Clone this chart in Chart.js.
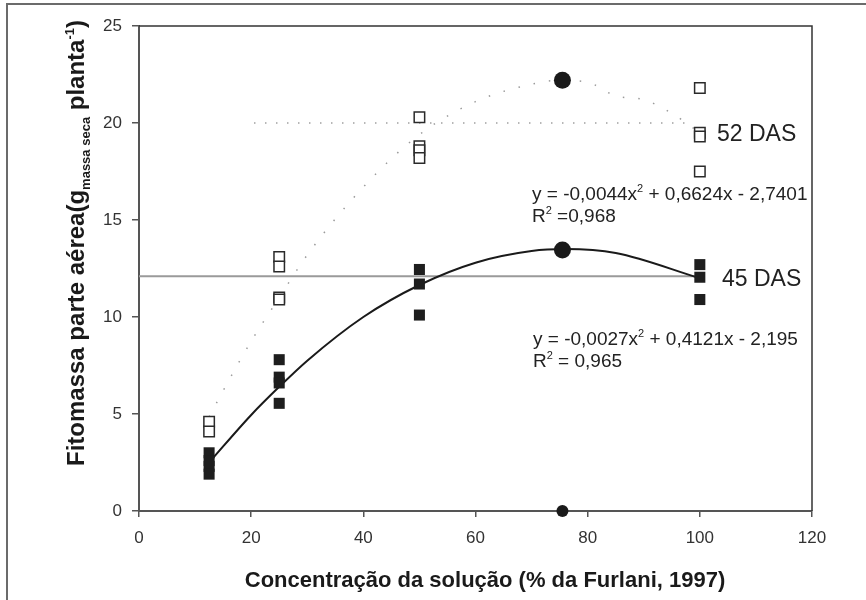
<!DOCTYPE html>
<html>
<head>
<meta charset="utf-8">
<title>Fitomassa parte aérea</title>
<script src="https://cdn.jsdelivr.net/npm/chart.js@4.4.0/dist/chart.umd.min.js"></script>
<style>
    html, body { margin: 0; padding: 0; background: #fff; }
    #chart { display: block; }
</style>
</head>
<body>
<canvas id="chart" width="866" height="600"></canvas>
<script>
// Data
const concentration = [12.5, 25, 50, 100];
const das52 = [[4.6, 4.1], [13.1, 12.6, 11.0, 10.9], [20.3, 18.8, 18.6, 18.2], [21.8, 19.5, 19.3, 17.5]];
const das45 = [[3.0, 2.6, 2.3, 1.9], [7.8, 6.9, 6.6, 5.55], [12.45, 11.7, 10.1], [12.7, 12.05, 10.9]];

// fitted curves
const curveX52 = [12.5, 15, 20, 25, 30, 40, 50, 60, 70, 75, 80, 85, 90, 95, 100];
const curveY52 = [4.85, 6.2, 8.75, 11.0, 13.2, 16.7, 19.4, 21.1, 22.0, 22.2, 22.1, 21.4, 21.2, 20.5, 19.5];
const curveX45 = [12.5, 20, 25, 30, 40, 50, 60, 70, 76, 85, 100];
const curveY45 = [2.5, 4.95, 6.4, 7.75, 10.0, 11.65, 12.8, 13.4, 13.5, 13.3, 12.0];

// maximum points
const maxX = [75.5, 75.5, 75.5];
const maxY = [22.2, 13.45, 0];

// reference lines
const refLineX = [0, 100];
const refLineY = [12.1, 12.1];
const dotLineX = [20.5, 97.5];
const dotLineY = [20, 20];

const xTicks = [0, 20, 40, 60, 80, 100, 120];
const yTicks = [0, 5, 10, 15, 20, 25];

const FONT = "'Liberation Sans', Arial, sans-serif";

function toPoints(xs, ys) {
    return xs.map((x, i) => ({ x: x, y: ys[i] }));
}

function groupPoints(xs, groups) {
    const pts = [];
    groups.forEach((vals, i) => vals.forEach(v => pts.push({ x: xs[i], y: v })));
    return pts;
}

// draw text with sub/superscript pieces
function drawRich(ctx, parts, x, y, align) {
    let total = 0;
    parts.forEach(p => {
        ctx.font = (p.bold ? 'bold ' : '') + p.size + 'px ' + FONT;
        p.w = ctx.measureText(p.text).width;
        total += p.w;
    });
    let cx = align === 'center' ? x - total / 2 : x;
    ctx.textBaseline = 'alphabetic';
    ctx.textAlign = 'left';
    parts.forEach(p => {
        ctx.font = (p.bold ? 'bold ' : '') + p.size + 'px ' + FONT;
        ctx.fillText(p.text, cx, y + (p.dy || 0));
        cx += p.w;
    });
}

const decorPlugin = {
    id: 'decor',
    afterDraw(chart) {
        const ctx = chart.ctx;
        const area = chart.chartArea;
        ctx.save();

        // outer frame (left and top edges)
        ctx.strokeStyle = '#6b6b6b';
        ctx.lineWidth = 2;
        ctx.beginPath();
        ctx.moveTo(7, 600);
        ctx.lineTo(7, 4);
        ctx.lineTo(866, 4);
        ctx.stroke();

        // top and right sides of the plot box
        ctx.strokeStyle = '#333';
        ctx.lineWidth = 1.5;
        ctx.beginPath();
        ctx.moveTo(area.left, area.top);
        ctx.lineTo(area.right, area.top);
        ctx.lineTo(area.right, area.bottom);
        ctx.stroke();

        ctx.fillStyle = '#1a1a1a';

        // y axis title
        ctx.save();
        ctx.translate(75, 243);
        ctx.rotate(-Math.PI / 2);
        drawRich(ctx, [
            { text: 'Fitomassa parte aérea(g', size: 24, bold: true },
            { text: 'massa seca', size: 13, bold: true, dy: 6 },
            { text: ' planta', size: 24, bold: true },
            { text: '-1', size: 13, bold: true, dy: -10 },
            { text: ')', size: 24, bold: true }
        ], 0, 9, 'center');
        ctx.restore();

        // x axis title
        drawRich(ctx, [
            { text: 'Concentração da solução (% da Furlani, 1997)', size: 22, bold: true }
        ], 485, 587, 'center');

        // series labels
        ctx.fillStyle = '#222';
        drawRich(ctx, [{ text: '52 DAS', size: 23 }], 717, 141, 'left');
        drawRich(ctx, [{ text: '45 DAS', size: 23 }], 722, 286, 'left');

        // regression equations
        drawRich(ctx, [
            { text: 'y = -0,0044x', size: 19 },
            { text: '2', size: 11, dy: -8 },
            { text: ' + 0,6624x - 2,7401', size: 19 }
        ], 532, 200, 'left');
        drawRich(ctx, [
            { text: 'R', size: 19 },
            { text: '2', size: 11, dy: -8 },
            { text: ' =0,968', size: 19 }
        ], 532, 222, 'left');
        drawRich(ctx, [
            { text: 'y = -0,0027x', size: 19 },
            { text: '2', size: 11, dy: -8 },
            { text: ' + 0,4121x - 2,195', size: 19 }
        ], 533, 345, 'left');
        drawRich(ctx, [
            { text: 'R', size: 19 },
            { text: '2', size: 11, dy: -8 },
            { text: ' = 0,965', size: 19 }
        ], 533, 367, 'left');

        ctx.restore();
    }
};

const ctx = document.getElementById('chart').getContext('2d');

const chart = new Chart(ctx, {
    type: 'scatter',
    data: {
        datasets: [
            {
                label: 'max',
                data: toPoints(maxX, maxY),
                pointStyle: 'circle',
                pointRadius: [8.5, 8.5, 6],
                backgroundColor: '#1a1a1a',
                borderColor: '#1a1a1a',
                borderWidth: 0,
                clip: false
            },
            {
                label: '45 DAS',
                data: groupPoints(concentration, das45),
                pointStyle: 'rect',
                pointRadius: 7.8,
                backgroundColor: '#1e1e1e',
                borderColor: '#1e1e1e',
                borderWidth: 0
            },
            {
                label: '52 DAS',
                data: groupPoints(concentration, das52),
                pointStyle: 'rect',
                pointRadius: 7.4,
                backgroundColor: '#ffffff',
                borderColor: '#2a2a2a',
                borderWidth: 1.5
            },
            {
                label: 'fit 45',
                data: toPoints(curveX45, curveY45),
                showLine: true,
                cubicInterpolationMode: 'monotone',
                borderColor: '#1a1a1a',
                borderWidth: 2,
                pointRadius: 0
            },
            {
                label: 'fit 52',
                data: toPoints(curveX52, curveY52),
                showLine: true,
                cubicInterpolationMode: 'monotone',
                borderColor: '#9a9a9a',
                borderWidth: 1.5,
                borderDash: [1.5, 14],
                pointRadius: 0
            },
            {
                label: 'ref 20',
                data: toPoints(dotLineX, dotLineY),
                showLine: true,
                borderColor: '#a0a0a0',
                borderWidth: 1.5,
                borderDash: [1.5, 9.5],
                pointRadius: 0
            },
            {
                label: 'ref 12',
                data: toPoints(refLineX, refLineY),
                showLine: true,
                borderColor: '#9a9a9a',
                borderWidth: 2,
                pointRadius: 0
            }
        ]
    },
    options: {
        responsive: false,
        animation: false,
        layout: {
            padding: { left: 0, top: 26, right: 54, bottom: 0 }
        },
        plugins: {
            legend: { display: false },
            tooltip: { enabled: false }
        },
        scales: {
            x: {
                type: 'linear',
                min: 0,
                max: 120,
                afterFit: function(scale) { scale.height = 89; },
                afterBuildTicks: function(scale) {
                    scale.ticks = xTicks.map(v => ({ value: v }));
                },
                border: { display: true, color: '#555', width: 2 },
                grid: {
                    drawOnChartArea: false,
                    drawTicks: true,
                    tickLength: 6,
                    tickColor: '#555',
                    lineWidth: 1.5
                },
                ticks: {
                    padding: 11,
                    color: '#333',
                    font: { family: FONT, size: 17 }
                }
            },
            y: {
                type: 'linear',
                min: 0,
                max: 25,
                afterFit: function(scale) { scale.width = 139; },
                afterBuildTicks: function(scale) {
                    scale.ticks = yTicks.map(v => ({ value: v }));
                },
                border: { display: true, color: '#555', width: 2 },
                grid: {
                    drawOnChartArea: false,
                    drawTicks: true,
                    tickLength: 7,
                    tickColor: '#555',
                    lineWidth: 1.5
                },
                ticks: {
                    padding: 10,
                    color: '#333',
                    font: { family: FONT, size: 17 }
                }
            }
        }
    },
    plugins: [decorPlugin]
});
</script>
</body>
</html>
